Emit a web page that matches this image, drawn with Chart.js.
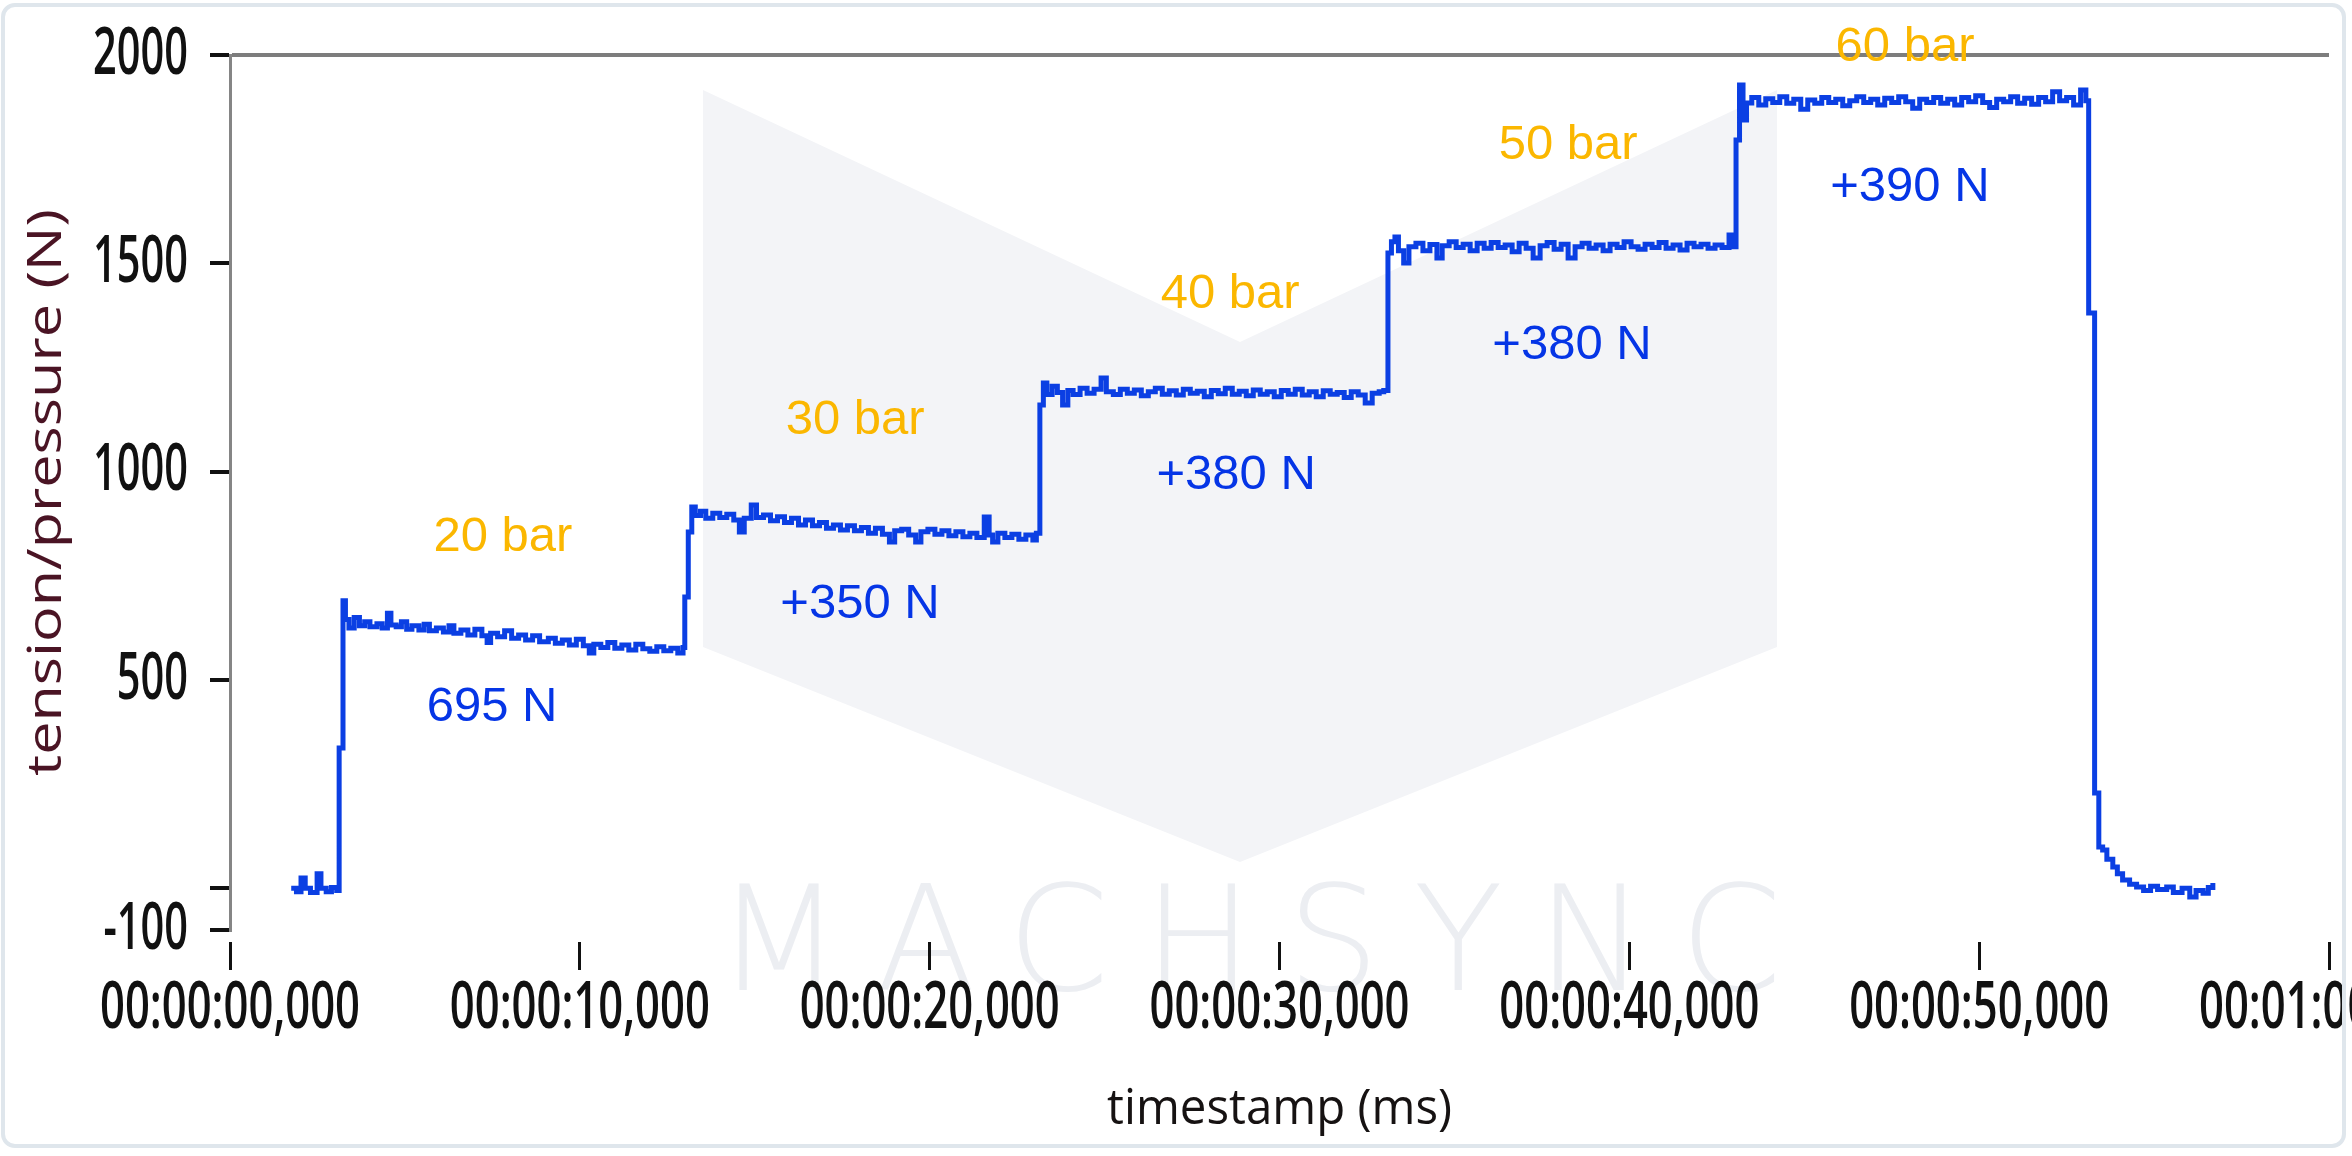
<!DOCTYPE html>
<html>
<head>
<meta charset="utf-8">
<script src="https://cdn.jsdelivr.net/npm/chart.js@4.4.1/dist/chart.umd.min.js"></script>
<style>
html,body{margin:0;padding:0;background:#fff;}
#wrap{position:relative;width:2352px;height:1156px;overflow:hidden;background:#fff;}
#c{position:absolute;left:0;top:0;}
#frame{position:absolute;left:1px;top:3px;width:2337px;height:1137px;border:4px solid #dfe6ec;border-radius:14px;pointer-events:none;}
</style>
</head>
<body>
<div id="wrap"><canvas id="c" width="2352" height="1156" style="width:2352px;height:1156px"></canvas><div id="frame"></div></div>
<script>
// ---------------- data (timestamp in ms, tension in N) ----------------
const idleStart = [[1750,0],[1900,-8],[2030,25],[2150,0],[2300,-10],[2490,35],[2600,0],[2750,-8],[2900,2],[3050,-5]];
const step20bar = [[3120,337],[3230,690],[3300,645],[3400,625],[3550,650],[3700,630],[3850,640],[4000,628],[4200,635],[4350,625],[4500,660],[4600,632],[4750,628],[4900,640],[5050,622],[5200,630],[5400,620],[5550,634],[5700,618],[5900,625],[6100,615],[6260,630],[6400,612],[6600,620],[6800,608],[7000,622],[7200,606],[7350,590],[7450,612],[7650,604],[7850,618],[8050,600],[8250,608],[8450,596],[8650,606],[8850,592],[9100,600],[9300,588],[9500,596],[9700,584],[9900,598],[10100,582],[10270,565],[10400,586],[10600,578],[10800,590],[11000,576],[11200,584],[11400,572],[11600,586],[11800,575],[12000,569],[12200,580],[12400,570],[12600,576],[12800,565],[12950,578]];
const step30bar = [[13000,699],[13100,855],[13200,915],[13300,895],[13450,905],[13600,888],[13800,900],[14000,890],[14200,898],[14400,884],[14560,855],[14700,888],[14900,920],[15050,890],[15250,896],[15450,882],[15650,892],[15850,878],[16050,888],[16250,872],[16450,884],[16650,870],[16850,878],[17050,864],[17250,872],[17450,860],[17650,870],[17850,858],[18050,866],[18250,852],[18450,864],[18650,850],[18850,831],[19000,858],[19200,862],[19400,848],[19600,831],[19750,856],[19950,862],[20150,850],[20350,858],[20550,846],[20750,856],[20950,844],[21150,852],[21350,842],[21560,891],[21700,848],[21800,831],[21950,852],[22150,842],[22350,850],[22550,838],[22750,848],[22950,836],[23050,852]];
const step40bar = [[23150,1160],[23250,1213],[23350,1185],[23500,1205],[23650,1190],[23800,1160],[23950,1195],[24100,1185],[24300,1200],[24500,1188],[24700,1198],[24900,1225],[25050,1192],[25250,1185],[25450,1198],[25650,1188],[25850,1196],[26050,1182],[26250,1192],[26450,1200],[26650,1186],[26850,1194],[27050,1184],[27250,1198],[27450,1188],[27650,1193],[27850,1180],[28050,1195],[28250,1187],[28450,1200],[28650,1186],[28850,1193],[29050,1182],[29250,1196],[29450,1186],[29650,1192],[29850,1180],[30050,1195],[30250,1186],[30450,1198],[30650,1184],[30850,1192],[31050,1180],[31250,1194],[31450,1186],[31650,1190],[31850,1178],[32050,1192],[32250,1184],[32450,1165],[32650,1188],[32850,1192],[32980,1195]];
const step50bar = [[33100,1525],[33200,1552],[33300,1563],[33400,1530],[33550,1501],[33700,1540],[33900,1548],[34100,1530],[34300,1545],[34500,1513],[34650,1542],[34850,1552],[35050,1538],[35250,1546],[35450,1530],[35650,1548],[35850,1536],[36050,1550],[36250,1538],[36450,1544],[36650,1528],[36850,1548],[37050,1536],[37250,1513],[37450,1542],[37650,1550],[37850,1534],[38050,1546],[38250,1513],[38450,1540],[38650,1548],[38850,1536],[39050,1544],[39250,1530],[39450,1546],[39650,1538],[39850,1552],[40050,1540],[40250,1534],[40450,1546],[40650,1538],[40850,1550],[41050,1536],[41250,1544],[41450,1532],[41650,1548],[41850,1540],[42050,1546],[42250,1536],[42450,1544],[42650,1538],[42850,1568],[42980,1540]];
const step60bar = [[43050,1796],[43150,1928],[43250,1844],[43350,1885],[43500,1898],[43700,1880],[43900,1895],[44100,1886],[44300,1900],[44500,1884],[44700,1894],[44900,1870],[45100,1892],[45300,1884],[45500,1898],[45700,1886],[45900,1894],[46100,1878],[46300,1890],[46500,1900],[46700,1886],[46900,1894],[47100,1880],[47300,1896],[47500,1886],[47700,1900],[47900,1888],[48100,1872],[48300,1894],[48500,1886],[48700,1898],[48900,1884],[49100,1894],[49300,1880],[49500,1898],[49700,1888],[49900,1902],[50100,1886],[50300,1874],[50500,1894],[50700,1888],[50900,1900],[51100,1884],[51300,1896],[51500,1882],[51700,1898],[51900,1888],[52100,1912],[52300,1890],[52500,1898],[52700,1880],[52900,1916],[53050,1890]];
const release = [[53130,1381],[53250,1381],[53300,229],[53390,229],[53420,99],[53530,92],[53650,70],[53820,51],[53950,35],[54100,20],[54300,10],[54500,3],[54700,-5],[54900,5],[55100,-3],[55360,3],[55550,-10],[55800,0],[56020,-21],[56200,-5],[56400,-12],[56550,2],[56680,13]];

const xTickValues = [0,10000,20000,30000,40000,50000,60000];
const xTickLabels = ['00:00:00,000','00:00:10,000','00:00:20,000','00:00:30,000','00:00:40,000','00:00:50,000','00:01:00,000'];
const yTickValues = [-100,0,500,1000,1500,2000];
const yTickLabels = ['-100','','500','1000','1500','2000'];

const annoText  = ['20 bar','695 N','30 bar','+350 N','40 bar','+380 N','50 bar','+380 N','60 bar','+390 N'];
const annoTime  = [7800,7490,17870,18010,28590,28760,38250,38360,47880,48020];
const annoValue = [841,433,1124,682,1426,992,1784,1304,2017,1683];
const annoKind  = ['bar','force','bar','force','bar','force','bar','force','bar','force'];

// ---------------- styling ----------------
const LINE_BLUE = '#0b3fe3';
const ANNO_COLORS = {bar:'#fbb700', force:'#0535e6'};
const AXIS_FONT = "'Open Sans', 'DejaVu Sans', sans-serif";

// axis text of the source is drawn narrow/tall: target widths in px
const titleTargetWidth = {'tension/pressure (N)': 567, 'timestamp (ms)': 345};
let squashOn = true;

const squashPlugin = {
  id: 'squash',
  beforeInit(chart) {
    const ctx = chart.ctx;
    const orig = ctx.fillText.bind(ctx);
    ctx.fillText = function(text, x, y, maxWidth) {
      if (!squashOn || typeof text !== 'string' || text === '') return orig(text, x, y);
      let f;
      if (titleTargetWidth[text]) f = titleTargetWidth[text] / ctx.measureText(text).width;
      else if (/^\d\d:\d\d/.test(text)) f = 260 / ctx.measureText('00:00:00,000').width;
      else f = 95 / ctx.measureText('2000').width;
      ctx.save();
      ctx.translate(x, y);
      ctx.scale(f, 1);
      orig(text, 0, 0);
      ctx.restore();
    };
  }
};

// faint background logo (decoration, in page pixels)
const logoShape = [[703,90],[1240,342],[1777,90],[1777,647],[1240,862],[703,647]];

const watermarkPlugin = {
  id: 'watermark',
  beforeDraw(chart) {
    const ctx = chart.ctx;
    squashOn = false;
    ctx.save();
    ctx.fillStyle = '#f3f4f7';
    ctx.beginPath();
    logoShape.forEach(([x, y], i) => i ? ctx.lineTo(x, y) : ctx.moveTo(x, y));
    ctx.closePath();
    ctx.fill();
    ctx.fillStyle = '#eceef2';
    ctx.font = '200 146px "DejaVu Sans", sans-serif';
    ctx.textAlign = 'center';
    ctx.textBaseline = 'alphabetic';
    try { ctx.letterSpacing = '34px'; } catch (e) {}
    ctx.fillText('MACHSYNC', 1266, 990);
    ctx.restore();
    squashOn = true;
  }
};

const annotationPlugin = {
  id: 'annotations',
  afterDraw(chart) {
    const ctx = chart.ctx;
    const xs = chart.scales.x, ys = chart.scales.y;
    squashOn = false;
    ctx.save();
    ctx.font = '49px "Liberation Sans", Arial, sans-serif';
    ctx.textAlign = 'center';
    ctx.textBaseline = 'middle';
    annoText.forEach((t, i) => {
      ctx.fillStyle = ANNO_COLORS[annoKind[i]];
      ctx.fillText(t, xs.getPixelForValue(annoTime[i]), ys.getPixelForValue(annoValue[i]));
    });
    ctx.restore();
    squashOn = true;
  }
};

const series = [].concat(idleStart, step20bar, step30bar, step40bar, step50bar, step60bar, release)
  .map(([t, v]) => ({x: t, y: v}));

new Chart(document.getElementById('c').getContext('2d'), {
  type: 'line',
  data: {
    datasets: [{
      label: 'tension',
      data: series,
      borderColor: LINE_BLUE,
      borderWidth: 5,
      pointRadius: 0,
      stepped: true,
      fill: false
    }]
  },
  options: {
    responsive: false,
    animation: false,
    devicePixelRatio: 1,
    layout: {padding: {left: 0, top: 55, right: 23, bottom: 0}},
    plugins: {legend: {display: false}, tooltip: {enabled: false}},
    scales: {
      x: {
        type: 'linear',
        position: 'bottom',
        min: 0, max: 60000,
        afterBuildTicks: s => { s.ticks = xTickValues.map(v => ({value: v})); },
        afterFit: s => { s.paddingLeft = 0; s.paddingRight = 0; s.height = 1156 - 930; },
        ticks: {
          autoSkip: false, maxRotation: 0, minRotation: 0, padding: 0,
          color: '#111',
          font: {family: AXIS_FONT, size: 66, weight: '600'},
          callback: v => xTickLabels[xTickValues.indexOf(v)]
        },
        grid: {
          drawOnChartArea: false, drawTicks: true,
          tickLength: 40, tickWidth: 3, tickColor: '#111',
          tickBorderDash: [0, 12, 28, 200]
        },
        border: {display: false},
        title: {
          display: true, text: 'timestamp (ms)', color: '#161212',
          font: {family: AXIS_FONT, size: 50, weight: '500'},
          padding: {top: 0, bottom: 16}
        }
      },
      y: {
        type: 'linear',
        min: -100, max: 2000,
        afterBuildTicks: s => { s.ticks = yTickValues.map(v => ({value: v})); },
        afterFit: s => { s.width = 230; },
        ticks: {
          padding: 12, color: '#111',
          font: {family: AXIS_FONT, size: 66, weight: '600'},
          callback: v => yTickLabels[yTickValues.indexOf(v)]
        },
        grid: {
          drawOnChartArea: true, drawTicks: true,
          color: c => (c.tick && c.tick.value === 2000) ? '#7d7d7d' : 'rgba(0,0,0,0)',
          lineWidth: 4,
          tickLength: 30, tickWidth: 4, tickColor: '#111',
          tickBorderDash: [0, 10, 20, 200]
        },
        border: {display: true, color: '#858585', width: 3},
        title: {
          display: true, text: 'tension/pressure (N)', color: '#4a1424',
          font: {family: AXIS_FONT, size: 48, weight: '500'},
          padding: {top: 19, bottom: 0}
        }
      }
    }
  },
  plugins: [squashPlugin, watermarkPlugin, annotationPlugin]
});
</script>
</body>
</html>
